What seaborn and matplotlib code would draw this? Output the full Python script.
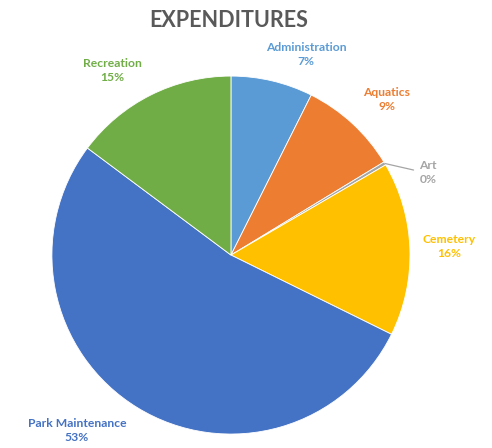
import numpy as np
import matplotlib.pyplot as plt
import seaborn as sns

# data (percent of expenditures)
categories = ['Administration', 'Aquatics', 'Art', 'Cemetery', 'Park Maintenance', 'Recreation']
shares = [7.4, 8.9, 0.3, 15.7, 52.9, 14.8]
shown_pct = ['7%', '9%', '0%', '16%', '53%', '15%']
colors = ['#5B9BD5', '#ED7D31', '#A5A5A5', '#FFC000', '#4472C4', '#70AD47']

sns.set_theme(style='white')
plt.rcParams['font.family'] = ['Lato', 'DejaVu Sans']

fig = plt.figure(figsize=(4.92, 4.48), dpi=100)
ax = fig.add_axes([0, 0, 1, 1])

wedges, _ = ax.pie(shares, colors=colors, startangle=90, counterclock=False,
                   radius=1.0, wedgeprops=dict(edgecolor='white', linewidth=0.6))

# label placement (label centre, in radius units)
label_pos = [(0.42, 1.12), (0.87, 0.87), (1.10, 0.46), (1.22, 0.05), (-0.86, -0.98), (-0.66, 1.03)]
for w, name, pct, col, (lx, ly) in zip(wedges, categories, shown_pct, colors, label_pos):
    ax.text(lx, ly, name + '\n' + pct, ha='center', va='center', color=col,
            fontsize=8.7, fontweight='bold', linespacing=1.35)

# leader line for the tiny Art slice
art = wedges[2]
mid = np.deg2rad((art.theta1 + art.theta2) / 2)
ax.plot([np.cos(mid), 1.02], [np.sin(mid), 0.475], color='#A5A5A5', lw=0.9)

ax.set_xlim(-1.29, 1.458)
ax.set_ylim(-1.078, 1.425)
ax.set_aspect('auto')
ax.axis('off')

fig.text(0.465, 0.955, 'EXPENDITURES', ha='center', va='center', fontsize=15.5,
         fontweight='bold', color='#595959')

fig.savefig('out.png', dpi=100)
